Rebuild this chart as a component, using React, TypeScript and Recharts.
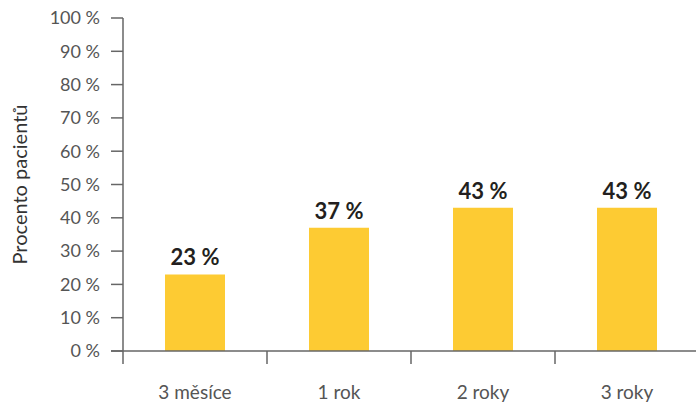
import { Bar, BarChart, LabelList, XAxis, YAxis } from 'recharts'

const CATEGORIES = ['3 měsíce', '1 rok', '2 roky', '3 roky']
const PERCENTS   = [23, 37, 43, 43]
const Y_TICKS    = [0, 10, 20, 30, 40, 50, 60, 70, 80, 90, 100]

const data = CATEGORIES.map((name, i) => ({ name, value: PERCENTS[i] }))

const FONT = 'Lato, "Open Sans", sans-serif'
const AXIS = '#666666'

// x tick: label under the band, tick mark at the band's left edge
function CategoryTick(props: any) {
  const { x, y, payload, index } = props
  const half = payload.offset ?? 72
  const left = x - half
  return (
    <g>
      <line x1={left} y1={y} x2={left} y2={y + 13} stroke={AXIS} strokeWidth={1.5} />
      {index === 0 && <line x1={left - 12} y1={y} x2={left} y2={y} stroke={AXIS} strokeWidth={1.5} />}
      <text x={x} y={y + 48} textAnchor="middle" fill="#555" fontSize={19} fontFamily={FONT}>
        {payload.value}
      </text>
    </g>
  )
}

export default function App() {
  return (
    <div style={{ position: 'absolute', left: 0, top: 0, width: 696, height: 404, overflow: 'hidden', background: '#fff' }}>
      <BarChart width={699} height={404} data={data} margin={{ top: 18, right: 0, left: 0, bottom: 0 }}>
        <XAxis
          dataKey="name"
          height={53}
          tickSize={0}
          tickMargin={0}
          tickLine={false}
          axisLine={{ stroke: AXIS, strokeWidth: 1.5 }}
          tick={<CategoryTick />}
          interval={0}
        />
        <YAxis
          width={123}
          domain={[0, 100]}
          ticks={Y_TICKS}
          interval={0}
          tickFormatter={(v: number) => `${v} %`}
          tickSize={12}
          tickMargin={11}
          tickLine={{ stroke: AXIS, strokeWidth: 1.5 }}
          axisLine={{ stroke: AXIS, strokeWidth: 1.5 }}
          tick={{ fontSize: 18, fill: '#555', fontFamily: FONT }}
          label={{
            value: 'Procento pacientů',
            angle: -90,
            position: 'insideLeft',
            offset: 20,
            style: { fontSize: 20, fill: '#333', fontFamily: FONT, textAnchor: 'middle' },
          }}
        />
        <Bar dataKey="value" fill="#FDCB33" barSize={60} isAnimationActive={false}>
          <LabelList
            dataKey="value"
            position="top"
            offset={9}
            formatter={(v: number) => `${v} %`}
            style={{ fontSize: 22, fontWeight: 700, fill: '#231f20', fontFamily: FONT }}
          />
        </Bar>
      </BarChart>
    </div>
  )
}
